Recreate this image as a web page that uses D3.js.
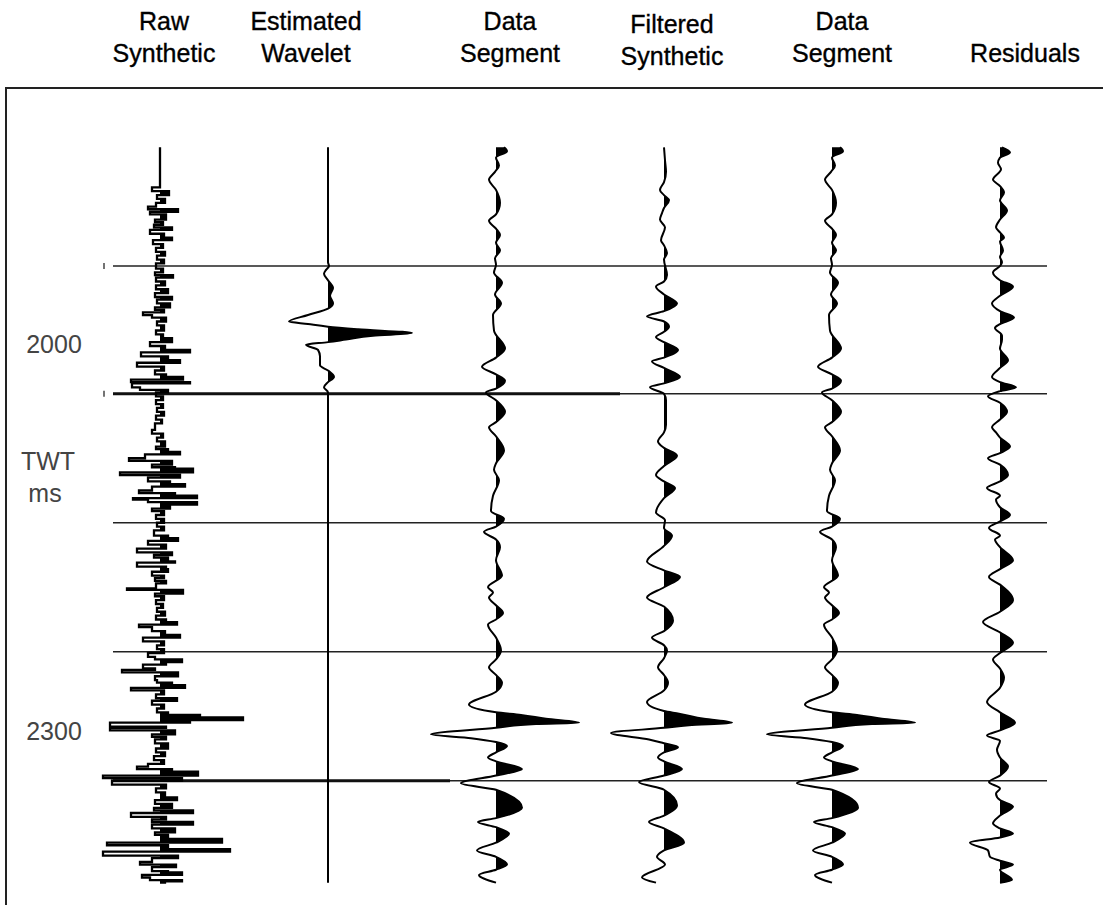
<!DOCTYPE html>
<html lang="en">
<head>
  <meta charset="UTF-8">
  <title>Wavelet estimation</title>
  <script src="https://d3js.org/d3.v7.min.js"></script>
  <style>
    body { margin: 0; background: #fff; }
    svg text { font-family: "Liberation Sans", Arial, sans-serif; }
  </style>
</head>
<body>
  <div id="chart"></div>

  <script>
    // column headings (two lines each)
    const titles = [
      ["Raw", "Synthetic"],
      ["Estimated", "Wavelet"],
      ["Data", "Segment"],
      ["Filtered", "Synthetic"],
      ["Data", "Segment"],
      ["", "Residuals"]
    ];

    // time axis (ms)
    const timeLabels = [2000, 2300];
    const gridTimes = [1938, 2037, 2137, 2237, 2337];

    // traces: [time ms, amplitude]
    const rawSynthetic = [
      [1846,0],[1875,0],[1877,-8],[1880,9],[1883,-3],[1886,5],[1889,-4],[1892,-12],[1894,18],[1896,-10],
      [1898,6],[1902,-5],[1904,3],[1906,-6],[1908,12],[1910,-10],[1913,4],[1916,12],[1918,-7],[1921,3],
      [1924,-4],[1927,5],[1930,-3],[1933,4],[1936,-4],[1940,3],[1943,-5],[1945,13],[1947,-4],[1950,5],
      [1953,-4],[1956,8],[1959,-5],[1962,12],[1964,-3],[1967,10],[1970,-5],[1972,4],[1974,-17],[1976,-8],
      [1978,6],[1981,-3],[1984,4],[1988,-4],[1991,3],[1994,12],[1997,-10],[2000,5],[2003,30],[2005,-19],
      [2008,8],[2011,20],[2013,-23],[2016,4],[2019,-5],[2022,6],[2024,23],[2026,-29],[2028,30],[2029,-28],
      [2032,-20],[2034,8],[2036,-4],[2039,3],[2042,-4],[2045,3],[2048,-3],[2051,4],[2054,-4],[2057,2],
      [2060,-5],[2065,-8],[2068,3],[2071,-3],[2074,5],[2078,-4],[2080,8],[2082,20],[2084,-15],[2087,-31],
      [2089,12],[2092,-8],[2094,15],[2095,33],[2098,-40],[2100,20],[2102,-12],[2105,10],[2107,25],[2109,-8],
      [2112,-21],[2114,15],[2116,37],[2118,-27],[2119,-12],[2121,37],[2123,10],[2126,-8],[2128,4],[2131,-4],
      [2134,4],[2137,-3],[2140,4],[2143,-6],[2147,8],[2149,18],[2151,-12],[2154,6],[2157,-23],[2160,12],
      [2162,-6],[2164,8],[2167,15],[2168,-23],[2171,6],[2173,8],[2175,-8],[2178,4],[2180,-5],[2182,6],
      [2184,-4],[2188,-33],[2189,23],[2192,-5],[2194,4],[2197,-4],[2200,3],[2203,-3],[2206,5],[2209,-4],
      [2212,6],[2214,17],[2216,-21],[2218,-8],[2221,5],[2224,20],[2226,-17],[2229,4],[2232,-3],[2235,4],
      [2238,-12],[2241,-5],[2243,22],[2245,6],[2247,-17],[2250,-5],[2251,-38],[2253,18],[2256,-5],[2259,-3],
      [2261,12],[2263,25],[2265,-29],[2267,4],[2270,-4],[2273,17],[2275,-8],[2278,4],[2281,-3],[2284,8],
      [2286,40],[2288,83],[2290,30],[2292,-50],[2295,6],[2296,-50],[2298,15],[2301,-8],[2303,6],[2305,-5],
      [2308,8],[2312,-4],[2315,5],[2318,-6],[2321,4],[2324,-12],[2326,-23],[2328,12],[2330,38],[2333,-57],
      [2335,22],[2337,-48],[2340,6],[2343,-4],[2346,5],[2350,17],[2352,-5],[2355,12],[2358,-6],[2360,33],
      [2362,-29],[2365,6],[2367,-8],[2369,33],[2371,-8],[2374,15],[2377,-5],[2379,8],[2382,62],[2385,-53],
      [2387,8],[2390,70],[2392,-57],[2395,18],[2397,-8],[2400,-20],[2402,16],[2404,-8],[2407,8],[2408,22],
      [2410,-18],[2412,-10],[2414,22],[2415,5],[2416,0]
    ];

    const wavelet = [
      [1846,0],[1935,0],[1938,1],[1941,-2],[1944,-4],[1949,0],[1955,5],[1961,2],[1967,5],[1971,0],
      [1976,-20],[1981,-39],[1983,-20],[1985,0],[1987,30],[1990,84],[1992,45],[1995,18],[1997,0],[1999,-22],
      [2003,-10],[2008,-8],[2015,-8],[2019,0],[2024,6],[2028,0],[2032,-4],[2036,0],[2416,0]
    ];

    const dataSegment = [
      [1846,8],[1849,11],[1854,0],[1860,3],[1865,-1],[1871,-7],[1879,0],[1889,4],[1898,0],[1903,-7],
      [1909,0],[1914,4],[1920,0],[1926,4],[1932,-1],[1937,0],[1943,-2],[1951,6],[1960,-1],[1967,5],
      [1976,-3],[1988,-2],[2002,9],[2009,0],[2016,-14],[2022,0],[2027,9],[2033,0],[2036,-10],[2042,0],
      [2051,9],[2059,0],[2063,-7],[2070,0],[2081,8],[2091,0],[2096,-2],[2104,3],[2116,-3],[2128,-5],
      [2134,8],[2140,0],[2144,-12],[2150,0],[2156,4],[2166,0],[2178,6],[2187,-8],[2191,-3],[2195,-7],
      [2201,0],[2207,7],[2212,0],[2216,-8],[2226,0],[2236,5],[2243,0],[2249,-7],[2255,0],[2261,6],
      [2268,0],[2278,-27],[2284,0],[2286,25],[2289,50],[2292,83],[2293,40],[2296,0],[2301,-65],[2304,-25],
      [2307,0],[2310,11],[2315,0],[2319,-8],[2322,0],[2328,26],[2333,0],[2339,-35],[2344,0],[2358,26],
      [2366,0],[2369,-18],[2373,0],[2378,13],[2385,0],[2391,-19],[2396,0],[2402,11],[2406,0],[2410,-17],
      [2416,0]
    ];

    const filteredSynthetic = [
      [1846,0],[1856,1],[1865,2],[1873,0],[1879,-4],[1883,0],[1887,5],[1893,0],[1897,-2],[1902,-4],
      [1908,1],[1918,-3],[1922,0],[1928,3],[1933,0],[1945,3],[1950,0],[1954,-8],[1960,0],[1967,13],
      [1973,0],[1977,-17],[1981,0],[1985,5],[1989,0],[1993,-8],[1997,0],[2003,14],[2009,0],[2012,-12],
      [2017,0],[2024,16],[2029,0],[2032,-14],[2037,0],[2042,2],[2061,2],[2067,0],[2074,-6],[2079,0],
      [2085,13],[2093,0],[2100,-8],[2105,0],[2110,11],[2118,0],[2129,-8],[2135,1],[2141,0],[2147,8],
      [2155,0],[2167,-17],[2174,0],[2179,16],[2187,0],[2195,-17],[2202,0],[2213,9],[2221,0],[2226,-12],
      [2232,0],[2236,3],[2242,0],[2249,-6],[2255,0],[2261,4],[2267,0],[2276,-17],[2283,0],[2285,15],
      [2289,40],[2292,68],[2294,25],[2296,0],[2300,-53],[2305,-15],[2308,0],[2311,14],[2315,0],[2319,-6],
      [2322,0],[2328,18],[2333,0],[2338,-25],[2344,0],[2356,13],[2364,0],[2369,-15],[2374,0],[2385,20],
      [2391,0],[2396,-7],[2402,1],[2412,-22],[2416,-8]
    ];

    const residuals = [
      [1846,2],[1850,10],[1854,0],[1858,-2],[1863,1],[1871,-7],[1876,0],[1881,4],[1887,0],[1895,7],
      [1902,0],[1908,-4],[1912,0],[1916,4],[1919,0],[1926,3],[1931,0],[1935,2],[1938,0],[1943,-7],
      [1949,0],[1954,13],[1961,0],[1967,-8],[1973,0],[1978,14],[1983,0],[1986,-5],[1992,2],[1995,2],
      [2002,0],[2011,8],[2017,0],[2024,-8],[2028,0],[2032,16],[2035,0],[2039,-12],[2044,0],[2051,7],
      [2057,0],[2063,-8],[2067,-4],[2071,0],[2078,10],[2083,0],[2087,-12],[2092,0],[2100,8],[2105,0],
      [2110,-13],[2116,0],[2119,-4],[2125,0],[2131,10],[2136,0],[2141,-11],[2147,0],[2150,-5],[2156,0],
      [2166,13],[2173,0],[2179,-11],[2185,0],[2197,13],[2206,0],[2214,-17],[2222,0],[2230,13],[2238,0],
      [2243,-7],[2250,0],[2257,4],[2265,0],[2276,-13],[2284,0],[2292,15],[2298,0],[2302,-13],[2306,0],
      [2313,-3],[2319,0],[2326,8],[2333,0],[2338,-11],[2343,0],[2347,-4],[2352,0],[2357,13],[2364,0],
      [2370,-7],[2374,0],[2378,13],[2381,0],[2385,-30],[2391,-12],[2396,-10],[2399,0],[2402,13],[2406,0],
      [2414,12],[2416,0]
    ];

    const traces = [rawSynthetic, wavelet, dataSegment, filteredSynthetic, dataSegment, residuals];

    // ---- layout ----
    const W = 1103, H = 905;
    const titleShift = [4, -22, 14, 8, 10, 25];

    const svg = d3.select("#chart").append("svg")
      .attr("width", W)
      .attr("height", H);

    const y = d3.scaleLinear().domain([2000, 2300]).range([346, 733]);
    const col = d3.scalePoint().domain(d3.range(titles.length)).range([160, 1000]);
    const amp = d3.scaleLinear().domain([-100, 100]).range([-100, 100]);

    // frame (open on right and bottom, runs off the page)
    svg.append("rect")
       .attr("x", 6).attr("y", 88)
       .attr("width", 1200).attr("height", 900)
       .attr("fill", "none")
       .attr("stroke", "#222")
       .attr("stroke-width", 2);

    // headings
    titles.forEach((t, i) => {
      const cx = col(i) + titleShift[i];
      const dy = i === 3 ? 3 : 0;
      [t[0], t[1]].forEach((s, k) => {
        svg.append("text").attr("x", cx).attr("y", (k ? 62 : 30) + dy)
           .attr("text-anchor", "middle")
           .style("font-size", "25px")
           .attr("fill", "#000")
           .attr("stroke", "#000").attr("stroke-width", 0.35)
           .text(s);
      });
    });

    // timing lines
    svg.selectAll(".grid")
       .data(gridTimes)
       .enter().append("line")
       .attr("x1", 113).attr("x2", 1047)
       .attr("y1", d => y(d)).attr("y2", d => y(d))
       .attr("stroke", "#222")
       .attr("stroke-width", 1.5);

    // heavier stretches of the 2nd and 5th line
    [[gridTimes[1], 620], [gridTimes[4], 450]].forEach(([t, xe]) => {
      svg.append("line")
         .attr("x1", 113).attr("x2", xe)
         .attr("y1", y(t)).attr("y2", y(t))
         .attr("stroke", "#111").attr("stroke-width", 3);
    });

    svg.selectAll(".tick")
       .data(gridTimes.slice(0, 2))
       .enter().append("line")
       .attr("x1", 104).attr("x2", 104)
       .attr("y1", d => y(d) - 3).attr("y2", d => y(d) + 3)
       .attr("stroke", "#444").attr("stroke-width", 1.5);

    // time labels
    svg.selectAll(".tlabel")
       .data(timeLabels)
       .enter().append("text")
       .attr("x", 54)
       .attr("y", d => y(d) + 7)
       .attr("text-anchor", "middle")
       .style("font-size", "25px")
       .attr("fill", "#444")
       .text(d => d);

    svg.append("text").attr("x", 48).attr("y", 470)
       .attr("text-anchor", "middle").style("font-size", "25px").attr("fill", "#444").text("TWT");
    svg.append("text").attr("x", 45).attr("y", 502)
       .attr("text-anchor", "middle").style("font-size", "25px").attr("fill", "#444").text("ms");

    // wiggle traces with positive lobes filled
    const defs = svg.append("defs");

    traces.forEach((data, i) => {
      const base = col(i);
      const curve = i === 0 ? d3.curveStepBefore : d3.curveMonotoneY;

      defs.append("clipPath").attr("id", "pos" + i)
          .append("rect")
          .attr("x", base).attr("y", 0)
          .attr("width", 200).attr("height", H);

      const area = d3.area()
        .y(d => y(d[0]))
        .x0(base)
        .x1(d => base + amp(d[1]))
        .curve(curve);

      const line = d3.line()
        .y(d => y(d[0]))
        .x(d => base + amp(d[1]))
        .curve(curve);

      svg.append("path")
         .datum(data)
         .attr("d", area)
         .attr("fill", "#000")
         .attr("clip-path", `url(#pos${i})`);

      svg.append("path")
         .datum(data)
         .attr("d", line)
         .attr("fill", "none")
         .attr("stroke", "#000")
         .attr("stroke-width", i === 0 ? 2.3 : 2);
    });
  </script>
</body>
</html>
